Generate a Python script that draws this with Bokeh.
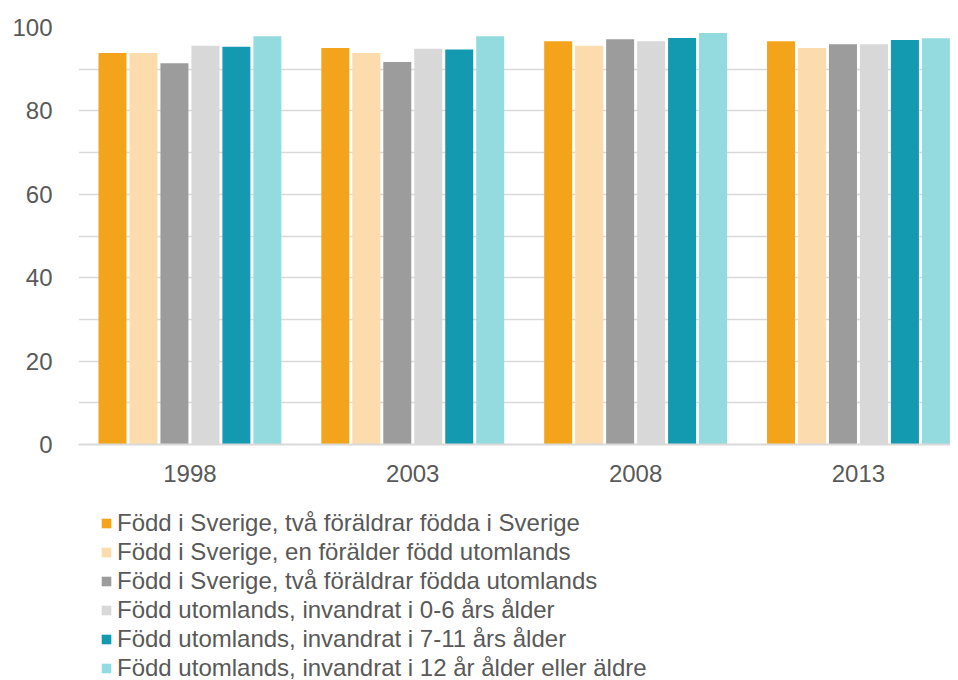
from bokeh.plotting import figure
from bokeh.layouts import column
from bokeh.models import ColumnDataSource, Range1d, FixedTicker, Legend, LegendItem
from bokeh.embed import file_html
from bokeh.resources import INLINE

years = ["1998", "2003", "2008", "2013"]
series_names = [
    "Född i Sverige, två föräldrar födda i Sverige",
    "Född i Sverige, en förälder född utomlands",
    "Född i Sverige, två föräldrar födda utomlands",
    "Född utomlands, invandrat i 0-6 års ålder",
    "Född utomlands, invandrat i 7-11 års ålder",
    "Född utomlands, invandrat i 12 år ålder eller äldre",
]
s1 = [93.9, 95.1, 96.7, 96.7]
s2 = [93.9, 93.9, 95.6, 95.1]
s3 = [91.4, 91.7, 97.2, 96.0]
s4 = [95.6, 94.9, 96.7, 96.0]
s5 = [95.4, 94.7, 97.5, 97.0]
s6 = [97.9, 97.9, 98.7, 97.4]
values = [s1, s2, s3, s4, s5, s6]
colors = ["#F4A41A", "#FCDBAC", "#9C9C9C", "#D8D8D8", "#1399B0", "#94DBDF"]

FONT = "Liberation Sans"
TXT = "#595959"

p = figure(frame_width=872, frame_height=417, output_backend="svg", toolbar_location=None,
           x_range=Range1d(-0.5, 3.413), y_range=Range1d(0, 100),
           min_border_left=78, min_border_right=0, min_border_top=27,
           min_border_bottom=60)
p.outline_line_color = None

pitch = 0.139
bw = 0.1256
for i, (vals, c) in enumerate(zip(values, colors)):
    off = (i - 2.5) * pitch
    src = ColumnDataSource(dict(x=[k + off for k in range(len(years))], top=vals))
    p.vbar(x="x", top="top", bottom=0, width=bw, source=src, fill_color=c, line_color=None)

p.xaxis.ticker = FixedTicker(ticks=list(range(len(years))))
p.xaxis.major_label_overrides = {i: y for i, y in enumerate(years)}
p.xaxis.axis_line_color = "#D9D9D9"
p.xaxis.axis_line_width = 2
p.xaxis.major_tick_line_color = None
p.xaxis.minor_tick_line_color = None
p.xaxis.major_tick_out = 0
p.xaxis.major_tick_in = 0
p.xaxis.major_label_standoff = 20
p.xaxis.major_label_text_font = FONT
p.xaxis.major_label_text_font_size = "24px"
p.xaxis.major_label_text_color = TXT

p.yaxis.ticker = FixedTicker(ticks=[0, 20, 40, 60, 80, 100], minor_ticks=[10, 30, 50, 70, 90])
p.yaxis.axis_line_color = None
p.yaxis.major_tick_line_color = None
p.yaxis.minor_tick_line_color = None
p.yaxis.major_tick_out = 0
p.yaxis.major_tick_in = 0
p.yaxis.major_label_standoff = 22
p.yaxis.major_label_text_font = FONT
p.yaxis.major_label_text_font_size = "24px"
p.yaxis.major_label_text_color = TXT

p.xgrid.grid_line_color = None
p.ygrid.grid_line_color = "#D9D9D9"
p.ygrid.grid_line_width = 1.5
p.ygrid.minor_grid_line_color = "#D9D9D9"
p.ygrid.minor_grid_line_width = 1.5

# legend panel (its frame is aligned with the chart's frame by the column layout)
lp = figure(width=950, height=176, output_backend="svg", toolbar_location=None,
            x_axis_location=None, y_axis_location=None, min_border=0,
            x_range=Range1d(0, 1), y_range=Range1d(0, 1))
lp.outline_line_color = None
lp.grid.visible = False
items = []
for name, c in zip(series_names, colors):
    # legend-only renderer, placed entirely outside the visible ranges
    r = lp.vbar(x=[-10], top=[-9], bottom=-10, width=0.1, fill_color=c, line_color=None)
    items.append(LegendItem(label=name, renderers=[r]))

legend = Legend(items=items, location=(22, -2), orientation="vertical",
                glyph_width=12, glyph_height=12, label_height=27, spacing=1,
                label_standoff=5, padding=0, margin=0,
                label_text_font=FONT, label_text_font_size="24px",
                label_text_color=TXT, border_line_color=None,
                background_fill_alpha=0)
lp.add_layout(legend, "center")

layout = column(p, lp, spacing=0)
open("out.html", "w").write(file_html(layout, INLINE))
